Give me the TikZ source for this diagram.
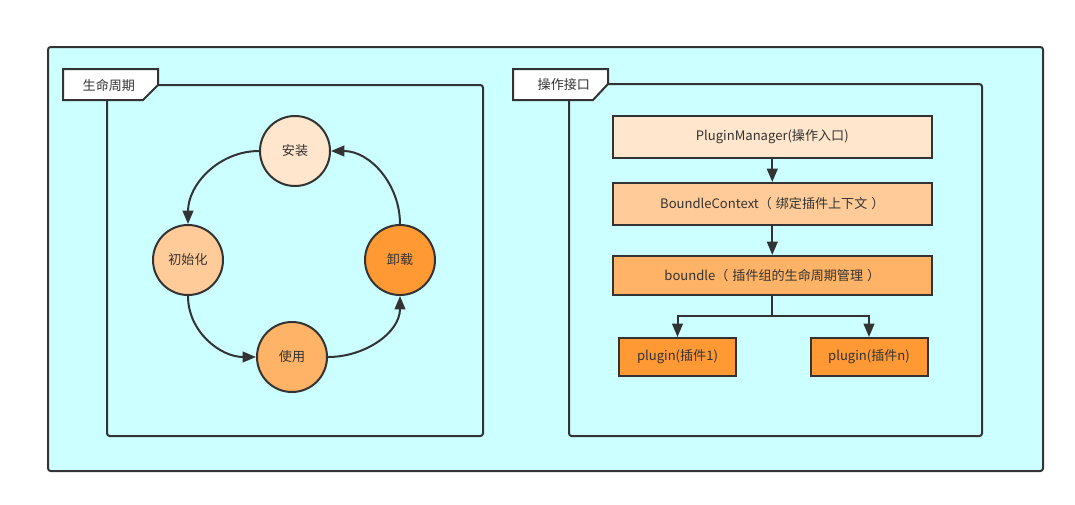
\documentclass[tikz,border=0pt]{standalone}
\usepackage{fontspec}
\setmainfont{Noto Sans CJK SC}
\usepackage{tikz}
\usepackage{xcolor}
\usetikzlibrary{positioning, arrows.meta, calc}

\definecolor{panelbg}{HTML}{CCFFFF}
\definecolor{linegray}{HTML}{333333}
\definecolor{stageA}{HTML}{FFE6CC}
\definecolor{stageB}{HTML}{FFCC99}
\definecolor{stageC}{HTML}{FFB366}
\definecolor{stageD}{HTML}{FF9933}

\begin{document}
\begin{tikzpicture}[
  x=0.75pt, y=-0.75pt,
  >={Triangle[length=10pt, width=8pt]},
  every node/.style={font=\fontsize{9.8}{11}\selectfont, text=linegray},
  frame/.style={draw=linegray, line width=1.5pt, rounded corners=2pt},
  stage/.style={circle, draw=linegray, line width=1.5pt, minimum size=52.5pt, inner sep=0pt},
  layer/.style={rectangle, draw=linegray, line width=1.5pt, minimum width=239.3pt, minimum height=31.5pt, inner sep=0pt},
  plug/.style={rectangle, draw=linegray, line width=1.5pt, minimum width=87.75pt, minimum height=28.5pt, inner sep=0pt, fill=stageD},
  arr/.style={->, draw=linegray, line width=1.5pt}
]
\useasboundingbox (0,0) rectangle (1075,504);

% ---- OUTER container ----
\draw[frame, fill=panelbg] (48,47) rectangle (1043,471);

% ---- LEFT panel: lifecycle ----
\draw[frame] (158,85) -- (483,85) -- (483,436) -- (107,436) -- (107,100);
\draw[draw=linegray, line width=1.5pt, fill=white]
  (63,69) -- (158,69) -- (158,85) -- (143,100) -- (63,100) -- cycle;
\node[anchor=west] (lifetab) at (78,85) {生命周期};

\node[stage, fill=stageA] (install) at (295,151) {安装};
\node[stage, fill=stageB] (init) at (188,260) {初始化};
\node[stage, fill=stageC] (use) at (292,357) {使用};
\node[stage, fill=stageD] (unload) at (400,260) {卸载};

\draw[arr] (install.west) to[out=180, in=90] (init.north);
\draw[arr] (init.south) to[out=-90, in=180] (use.west);
\draw[arr] (use.east) to[out=0, in=-90] (unload.south);
\draw[arr] (unload.north) to[out=90, in=0] (install.east);

% ---- RIGHT panel: operation interface ----
\draw[frame] (608,84) -- (982,84) -- (982,436) -- (569,436) -- (569,100);
\draw[draw=linegray, line width=1.5pt, fill=white]
  (513,69) -- (608,69) -- (608,84) -- (593,100) -- (513,100) -- cycle;
\node[anchor=west] (opstab) at (533,85) {操作接口};

\node[layer, fill=stageA] (manager) at (772.3,137) {PluginManager(操作入口)};
\node[layer, fill=stageB] (context) at (772.3,204)
  {BoundleContext（\hspace{3pt}绑定插件上下文\hspace{3pt}）};
\node[layer, fill=stageC, minimum height=29.3pt] (boundle) at (772.3,275.5)
  {boundle（\hspace{3pt}插件组的生命周期管理\hspace{3pt}）};
\node[plug] (pluginone) at (677.5,357) {plugin(插件1)};
\node[plug] (pluginn) at (869,357) {plugin(插件n)};
\coordinate (split) at (772.3,316);

\draw[arr] (manager) -- (context);
\draw[arr] (context) -- (boundle);
\draw[draw=linegray, line width=1.5pt] (boundle.south) -- (split);
\draw[arr] (split) -| (pluginone.north);
\draw[arr] (split) -| (pluginn.north);

\end{tikzpicture}
\end{document}
